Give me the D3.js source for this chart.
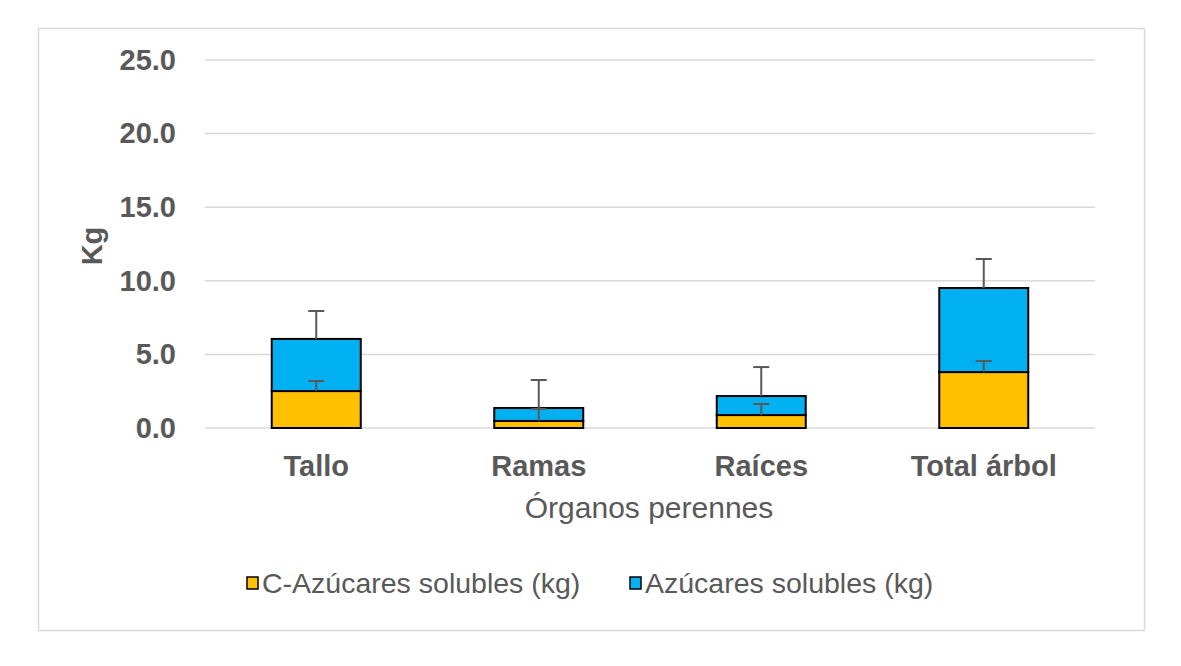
<!DOCTYPE html>
<html><head><meta charset="utf-8">
<script src="https://cdn.jsdelivr.net/npm/d3@7"></script>
<style>body{margin:0;background:#fff}svg{display:block}</style>
</head><body>
<svg id="c" width="1181" height="666"></svg>
<script>
const categories = ["Tallo","Ramas","Raíces","Total árbol"];
const cSugar = [2.51, 0.48, 0.88, 3.80];
const cSugarErr = [0.68, 0.82, 0.75, 0.75];
const sugar = [3.54, 0.88, 1.29, 5.71];
const sugarErr = [1.90, 1.90, 1.97, 1.97];
const yTicks = [0, 5, 10, 15, 20, 25];
const seriesNames = ["C-Azúcares solubles (kg)", "Azúcares solubles (kg)"];
const colors = ["#FFC000", "#00B0F0"];

const svg = d3.select("#c");
const font = "Liberation Sans, Arial, sans-serif";
const txt = "#595959";

svg.append("rect").attr("x",38.5).attr("y",28.5).attr("width",1106).attr("height",602)
  .attr("fill","#fff").attr("stroke","#d9d9d9").attr("stroke-width",1.5);

const x = d3.scaleBand().domain(categories).range([205,1095]).paddingInner(0.6).paddingOuter(0.3);
const y = d3.scaleLinear().domain([0,25]).range([428,60]);

// gridlines
svg.append("g").selectAll("line").data(yTicks).join("line")
  .attr("x1",205).attr("x2",1095).attr("y1",d=>y(d)).attr("y2",d=>y(d))
  .attr("stroke","#d9d9d9").attr("stroke-width",1.5);

// y axis labels
const yAxis = svg.append("g").attr("transform","translate(188,0)")
  .call(d3.axisLeft(y).tickValues(yTicks).tickFormat(d3.format(".1f")).tickSize(0).tickPadding(12));
yAxis.select(".domain").remove();
yAxis.selectAll("text").attr("font-family",font).attr("font-size",29).attr("font-weight","bold").attr("fill",txt);

// x axis labels
const xAxis = svg.append("g").attr("transform","translate(0,428)")
  .call(d3.axisBottom(x).tickSize(0).tickPadding(27));
xAxis.select(".domain").remove();
xAxis.selectAll("text").attr("font-family",font).attr("font-size",29).attr("font-weight","bold").attr("fill",txt);

// bars
const data = categories.map((c,i)=>({c, a:cSugar[i], b:sugar[i], ea:cSugarErr[i], eb:sugarErr[i]}));
const g = svg.append("g");
g.selectAll("rect.a").data(data).join("rect").attr("class","a")
  .attr("x",d=>x(d.c)).attr("width",x.bandwidth())
  .attr("y",d=>y(d.a)).attr("height",d=>y(0)-y(d.a))
  .attr("fill",colors[0]).attr("stroke","#000").attr("stroke-width",2);
g.selectAll("rect.b").data(data).join("rect").attr("class","b")
  .attr("x",d=>x(d.c)).attr("width",x.bandwidth())
  .attr("y",d=>y(d.a+d.b)).attr("height",d=>y(d.a)-y(d.a+d.b))
  .attr("fill",colors[1]).attr("stroke","#000").attr("stroke-width",2);

// error bars
function errBars(top, err){
  const eg = svg.append("g").attr("stroke","#595959").attr("stroke-width",2);
  data.forEach((d,i)=>{
    const cx = x(d.c)+x.bandwidth()/2;
    const t = top(d), e = err(d);
    eg.append("line").attr("x1",cx).attr("x2",cx).attr("y1",y(t)).attr("y2",y(t+e));
    eg.append("line").attr("x1",cx-8).attr("x2",cx+8).attr("y1",y(t+e)).attr("y2",y(t+e));
  });
}
errBars(d=>d.a, d=>d.ea);
errBars(d=>d.a+d.b, d=>d.eb);

// axis titles
svg.append("text").attr("transform","translate(102,246) rotate(-90)").attr("text-anchor","middle")
  .attr("font-family",font).attr("font-size",29).attr("font-weight","bold").attr("fill",txt).text("Kg");
svg.append("text").attr("x",649).attr("y",518).attr("text-anchor","middle")
  .attr("font-family",font).attr("font-size",30).attr("fill",txt).text("Órganos perennes");

// legend
const legX = [247, 630];
seriesNames.forEach((n,i)=>{
  svg.append("rect").attr("x",legX[i]).attr("y",577).attr("width",11).attr("height",12)
    .attr("fill",colors[i]).attr("stroke","#000").attr("stroke-width",1.5);
  svg.append("text").attr("x",legX[i]+15).attr("y",593).attr("font-family",font).attr("font-size",28.5)
    .attr("fill",txt).text(n);
});
</script>
</body></html>
